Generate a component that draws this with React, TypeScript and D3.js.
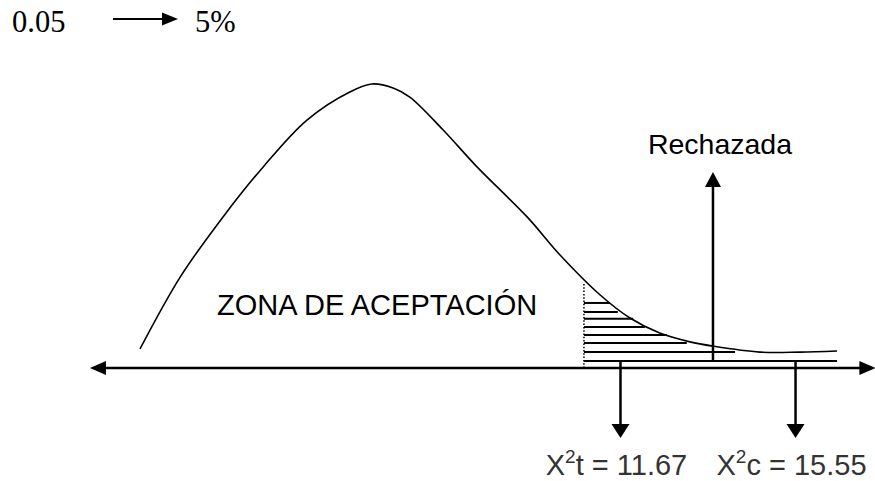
import React from "react";
import * as d3 from "d3";

// chi-square sketch: curve (x in chi units, y in relative density)
const curveX = [1.02, 1.91, 2.86, 3.75, 4.72, 5.67, 6.16, 6.63, 7.0, 7.74, 8.49, 9.6, 10.33, 11.22, 11.88, 12.54, 13.21, 13.72, 14.76, 15.65, 16.47];
const curveY = [0.067, 0.32, 0.532, 0.708, 0.873, 0.972, 1.0, 0.986, 0.954, 0.838, 0.708, 0.532, 0.398, 0.257, 0.176, 0.123, 0.092, 0.077, 0.056, 0.056, 0.06];

// hatched rejection area
const hatchStart = 10.86;
const hatchLevels = [0.229, 0.197, 0.173, 0.144, 0.116, 0.088, 0.056, 0.025];
const hatchEnds = [11.44, 11.61, 11.95, 12.21, 12.7, 13.14, 14.21, 16.47];
const dottedTop = 0.3;

const criticalValues = [11.67, 15.55];
const criticalLabels = [
	{ sym: "t", value: "11.67" },
	{ sym: "c", value: "15.55" },
];
const rejectX = 13.72;
const rejectTop = 0.69;
const axisExtent = [-0.09, 17.32];

const W = 875;
const H = 481;

export default function App() {
	const x = d3.scaleLinear().domain([0, 17.4]).range([94, 879]);
	const y = d3.scaleLinear().domain([0, 1]).range([368, 84]);

	const pts = curveX.map((v, i) => [v, curveY[i]] as [number, number]);
	const line = d3
		.line<[number, number]>()
		.x((d) => x(d[0]))
		.y((d) => y(d[1]))
		.curve(d3.curveCatmullRom.alpha(0.5));

	const axisY = y(0);
	const ax0 = x(axisExtent[0]);
	const ax1 = x(axisExtent[1]);
	const arrowLen = 77; // down arrows length in px below the hatch base
	const sans = "'Liberation Sans', Arial, sans-serif";
	const serif = "'Liberation Serif', 'Times New Roman', serif";

	return (
		<svg width={W} height={H} style={{ position: "absolute", left: 0, top: 0, background: "#fff" }}>
			{/* header */}
			<text x={12} y={32} fontFamily={serif} fontSize={30.5} fill="#000">
				0.05
			</text>
			<line x1={113} y1={19} x2={164} y2={19} stroke="#000" strokeWidth={2.2} />
			<path d="M162,12.5 L178,19 L162,25.5 Z" fill="#000" />
			<text x={195} y={32} fontFamily={serif} fontSize={30.5} fill="#000">
				5%
			</text>

			{/* distribution curve */}
			<path d={line(pts) || ""} fill="none" stroke="#000" strokeWidth={1.6} />

			{/* hatching */}
			{hatchLevels.map((lv, i) => (
				<line
					key={i}
					x1={x(hatchStart)}
					x2={x(hatchEnds[i])}
					y1={y(lv)}
					y2={y(lv)}
					stroke="#000"
					strokeWidth={2}
				/>
			))}
			<line
				x1={x(hatchStart)}
				x2={x(hatchStart)}
				y1={y(0)}
				y2={y(dottedTop)}
				stroke="#000"
				strokeWidth={1.5}
				strokeDasharray="1.5,1.8"
			/>

			{/* horizontal axis with arrows both ends */}
			<line x1={ax0 + 12} x2={ax1 - 12} y1={axisY} y2={axisY} stroke="#000" strokeWidth={2.5} />
			<path d={`M${ax0},${axisY} L${ax0 + 16},${axisY - 7} L${ax0 + 16},${axisY + 7} Z`} fill="#000" />
			<path d={`M${ax1},${axisY} L${ax1 - 16},${axisY - 7} L${ax1 - 16},${axisY + 7} Z`} fill="#000" />

			{/* rejection arrow */}
			<line
				x1={x(rejectX)}
				x2={x(rejectX)}
				y1={y(hatchLevels[hatchLevels.length - 1])}
				y2={y(rejectTop) + 12}
				stroke="#000"
				strokeWidth={2.5}
			/>
			<path
				d={`M${x(rejectX)},${y(rejectTop)} L${x(rejectX) - 8},${y(rejectTop) + 15} L${x(rejectX) + 8},${y(rejectTop) + 15} Z`}
				fill="#000"
			/>
			<text x={x(rejectX) + 7} y={154} textAnchor="middle" fontFamily={sans} fontSize={28.5} fill="#000">
				Rechazada
			</text>

			<text x={217} y={315} fontFamily={sans} fontSize={29} fill="#000">
				ZONA DE ACEPTACIÓN
			</text>

			{/* critical values */}
			{criticalValues.map((cv, i) => {
				const cx = x(cv);
				const y0 = y(hatchLevels[hatchLevels.length - 1]);
				const tip = y0 + arrowLen;
				return (
					<g key={i}>
						<line x1={cx} x2={cx} y1={y0} y2={tip - 10} stroke="#000" strokeWidth={2.5} />
						<path d={`M${cx},${tip} L${cx - 9},${tip - 14} L${cx + 9},${tip - 14} Z`} fill="#000" />
						<text x={cx - 4} y={475} textAnchor="middle" fontFamily={sans} fontSize={29} fill="#333">
							X
							<tspan fontSize={19} dy={-12}>
								2
							</tspan>
							<tspan dy={12}>{`${criticalLabels[i].sym} = ${criticalLabels[i].value}`}</tspan>
						</text>
					</g>
				);
			})}
		</svg>
	);
}
